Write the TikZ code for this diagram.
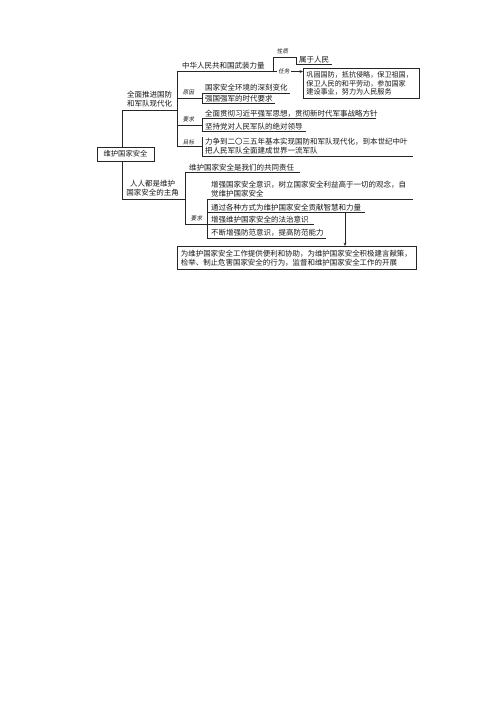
\documentclass[tikz,border=0pt]{standalone}
\usepackage{fontspec}
\newfontfamily\cjk{Noto Sans CJK SC}
\newfontfamily\cjktag[FakeSlant=0.15]{Noto Sans CJK SC}
\usetikzlibrary{arrows.meta}
\begin{document}
\begin{tikzpicture}[x=1pt,y=-1pt,
  every node/.style={inner sep=0pt,font=\cjk\fontsize{7.5}{9}\selectfont,text=black!90},
  ln/.style={line width=0.6pt,draw=black!85},
  bx/.style={draw=black!85,line width=0.8pt,fill=white},
  tag/.style={font=\cjktag\fontsize{5.6}{6}\selectfont},
  itm/.style={anchor=west},
  tip/.style={-{Stealth[length=3.4pt,width=2.8pt]}}]
\fill[white] (0,0) rectangle (500,707);
\useasboundingbox (0,0) rectangle (500,707);

% ---- root and its two branches
\coordinate (tA) at (122,110);
\coordinate (tB) at (177,110);
\coordinate (bA) at (122,199);
\coordinate (bB) at (185,199);
\draw[ln] (tA) -- (bA);
\node[bx, minimum width=57pt, minimum height=14pt, font=\cjk\fontsize{7.3}{9}\selectfont] (root) at (125.5,154) {维护国家安全};
\draw[ln] (tA) -- (tB);
\draw[ln] (bA) -- (bB);
\node[align=center, font=\cjk\fontsize{7.5}{8.4}\selectfont] (tlab) at (149.5,99.3) {全面推进国防\\和军队现代化};
\node[align=center, font=\cjk\fontsize{7.5}{9.5}\selectfont] (blab) at (152.5,188) {人人都是维护\\国家安全的主角};

% ---- top main bracket
\coordinate (m1) at (177,71.5);
\coordinate (m2) at (177,146);
\draw[ln] (m1) -- (m2);

% 中华人民共和国武装力量
\node[itm] (wz) at (182,65.3) {中华人民共和国武装力量};
\node[bx, anchor=north west, text width=110pt, inner xsep=3pt, inner ysep=0pt,
      minimum height=30pt, align=left, font=\cjk\fontsize{7.1}{8.2}\selectfont] (task) at (303,68)
  {巩固国防，抵抗侵略，保卫祖国，\\保卫人民的和平劳动，参加国家\\建设事业，努力为人民服务};
\draw[ln,tip] (m1) -- (m1 -| task.west);
\node[tag, fill=white, inner xsep=1pt, inner ysep=1pt] (rw) at (284,71.5) {任务};

% 性质
\coordinate (k1) at (273,71.5);
\coordinate (k2) at (273,57);
\coordinate (k3) at (296,57);
\coordinate (k4) at (296,64);
\coordinate (k5) at (332,64);
\draw[ln] (k1) -- (k2) -- (k3) -- (k4) -- (k5);
\node[tag] (xz) at (282.5,51) {性质};
\node[itm] (sy) at (299,59.6) {属于人民};

% 原因
\coordinate (y0) at (177,98.3);
\coordinate (y1) at (202,98.3);
\coordinate (y2) at (202,93.3);
\coordinate (y3) at (202,103.5);
\coordinate (y2e) at (290,93.3);
\coordinate (y3e) at (275,103.5);
\draw[ln] (y0) -- (y1);
\draw[ln] (y2e) -- (y2) -- (y3) -- (y3e);
\node[tag] (yy) at (188.5,92.3) {原因};
\node[itm] (yt1) at (205,87.6) {国家安全环境的深刻变化};
\node[itm] (yt2) at (205,98.9) {强国强军的时代要求};

% 要求 (top)
\coordinate (q0) at (177,124.8);
\coordinate (q1) at (202,124.8);
\coordinate (q2) at (202,118.5);
\coordinate (q3) at (202,131);
\coordinate (q2e) at (376,118.5);
\coordinate (q3e) at (306,131);
\draw[ln] (q0) -- (q1);
\draw[ln] (q2e) -- (q2) -- (q3) -- (q3e);
\node[tag] (qy) at (188.5,119.2) {要求};
\node[itm] (qt1) at (205,113.6) {全面贯彻习近平强军思想，贯彻新时代军事战略方针};
\node[itm] (qt2) at (205,126.2) {坚持党对人民军队的绝对领导};

% 目标
\coordinate (g1) at (202,146);
\coordinate (g2) at (202,137);
\coordinate (g3) at (202,156);
\coordinate (g3e) at (413,156);
\draw[ln] (m2) -- (g1);
\draw[ln] (g2) -- (g3) -- (g3e);
\node[tag] (gy) at (188.5,142) {目标};
\node[itm, align=left] (gt) at (205,146)
  {力争到二〇三五年基本实现国防和军队现代化，到本世纪中叶\\把人民军队全面建成世界一流军队};

% ---- bottom bracket
\coordinate (n1) at (185,172.5);
\coordinate (n2) at (185,224);
\coordinate (n1e) at (300,172.5);
\draw[ln] (n1e) -- (n1) -- (n2);
\node[itm] (zr) at (189,167.4) {维护国家安全是我们的共同责任};

% 要求 (bottom)
\coordinate (p1) at (207,224);
\coordinate (p0) at (207,199);
\coordinate (p4) at (207,237.8);
\coordinate (p0e) at (413,199);
\coordinate (pa) at (207,212);
\coordinate (pae) at (365,212);
\coordinate (p1e) at (314,224);
\coordinate (p4e) at (326,237.8);
\draw[ln] (n2) -- (p1);
\draw[ln] (p0e) -- (p0) -- (p4) -- (p4e);
\draw[ln] (pa) -- (pae);
\draw[ln] (p1) -- (p1e);
\node[tag] (py) at (196.5,218.5) {要求};
\node[itm, align=left] (pt0) at (211,189)
  {增强国家安全意识，树立国家安全利益高于一切的观念，自\\觉维护国家安全};
\node[itm] (pt1) at (211,207.6) {通过各种方式为维护国家安全贡献智慧和力量};
\node[itm] (pt2) at (211,219.8) {增强维护国家安全的法治意识};
\node[itm] (pt3) at (211,233.2) {不断增强防范意识，提高防范能力};

% ---- final box and arrow
\node[bx, anchor=north west, text width=232pt, inner xsep=3.5pt, inner ysep=0pt,
      minimum height=23.3pt, align=left, font=\cjk\fontsize{7.45}{9}\selectfont] (fb) at (177,246)
  {为维护国家安全工作提供便利和协助，为维护国家安全积极建言献策，\\检举、制止危害国家安全的行为，监督和维护国家安全工作的开展};
\coordinate (ar) at (345,212);
\draw[ln,tip] (ar) -- (ar |- fb.north);
\end{tikzpicture}
\end{document}
